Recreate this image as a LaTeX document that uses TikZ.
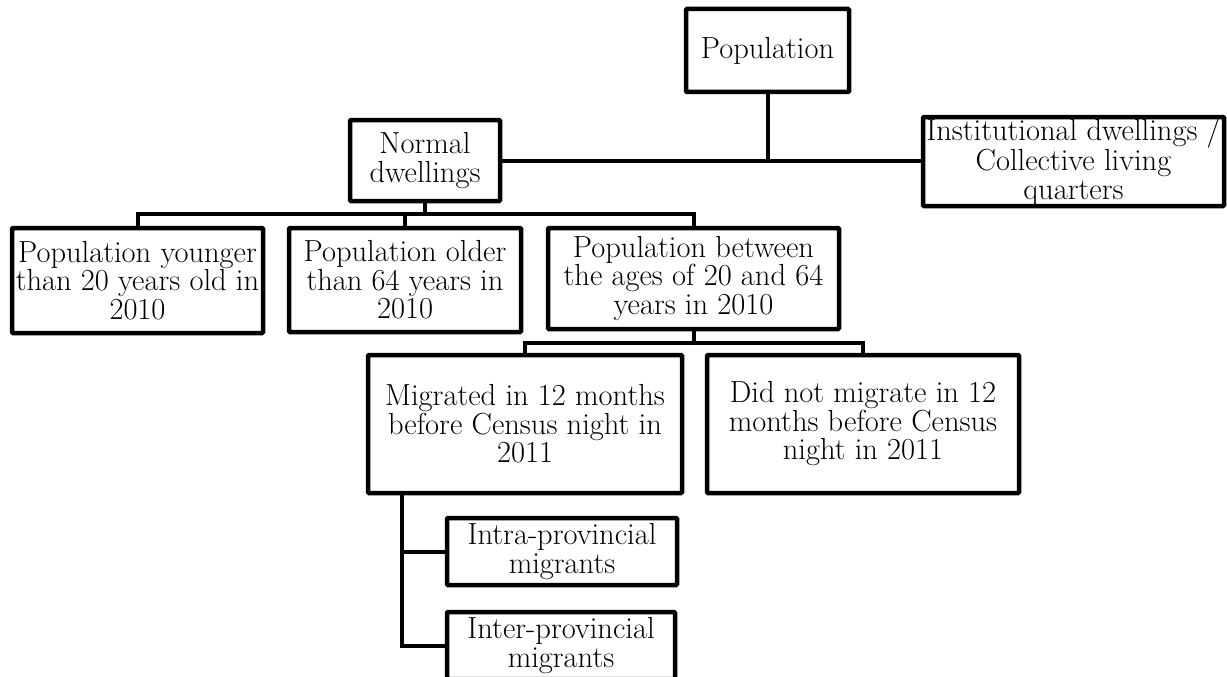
\documentclass[tikz,border=0pt]{standalone}
\begin{document}
\begin{tikzpicture}[x=1pt,y=-1pt,
  font=\fontsize{30.5pt}{28.5pt}\selectfont,
  box/.style={draw, line width=4.5pt, rounded corners=1pt, inner sep=0pt, align=center, fill=white},
  conn/.style={line width=4pt}]
\useasboundingbox (0,0) rectangle (1227,677);
% nodes
\node[box, minimum width=163pt, minimum height=83pt] (pop) at (767.5,50.5) {Population};
\node[box, minimum width=150pt, minimum height=81pt] (norm) at (425,160.5) {Normal\\dwellings};
\node[box, minimum width=301pt, minimum height=89pt] (inst) at (1073.5,161.5) {Institutional dwellings /\\Collective living\\quarters};
\node[box, minimum width=251pt, minimum height=105pt] (y20) at (137.5,280.5) {Population younger\\than 20 years old in\\2010};
\node[box, minimum width=232pt, minimum height=104pt] (o64) at (405,280) {Population older\\than 64 years in\\2010};
\node[box, minimum width=291pt, minimum height=101pt] (mid) at (693.5,278.5) {Population between\\the ages of 20 and 64\\years in 2010};
\node[box, minimum width=314pt, minimum height=138pt] (mig) at (525,424) {Migrated in 12 months\\before Census night in\\2011};
\node[box, minimum width=312pt, minimum height=138pt] (nomig) at (863,424) {Did not migrate in 12\\months before Census\\night in 2011};
\node[box, minimum width=230pt, minimum height=67pt] (intra) at (562,551.5) {Intra-provincial\\migrants};
\node[box, minimum width=228pt, minimum height=67pt] (inter) at (561,645.5) {Inter-provincial\\migrants};
% helper coordinates
\coordinate (busA) at (0,214);
\coordinate (busB) at (0,343);
\coordinate (spine) at (402,0);
% connectors
\draw[conn] (pop.south) -- (pop.south |- norm.east);
\draw[conn] (norm.east) -- (norm.east -| inst.west);
\draw[conn] (norm.south) -- (norm.south |- busA);
\draw[conn] (y20.north) |- (busA -| mid.north) -- (mid.north);
\draw[conn] (o64.north) -- (o64.north |- busA);
\draw[conn] (mid.south) -- (mid.south |- busB);
\draw[conn] (mig.north) |- (busB -| nomig.north) -- (nomig.north);
\draw[conn] (spine |- mig.south) |- (inter.west);
\draw[conn] (spine |- intra.west) -- (intra.west);
\end{tikzpicture}
\end{document}
